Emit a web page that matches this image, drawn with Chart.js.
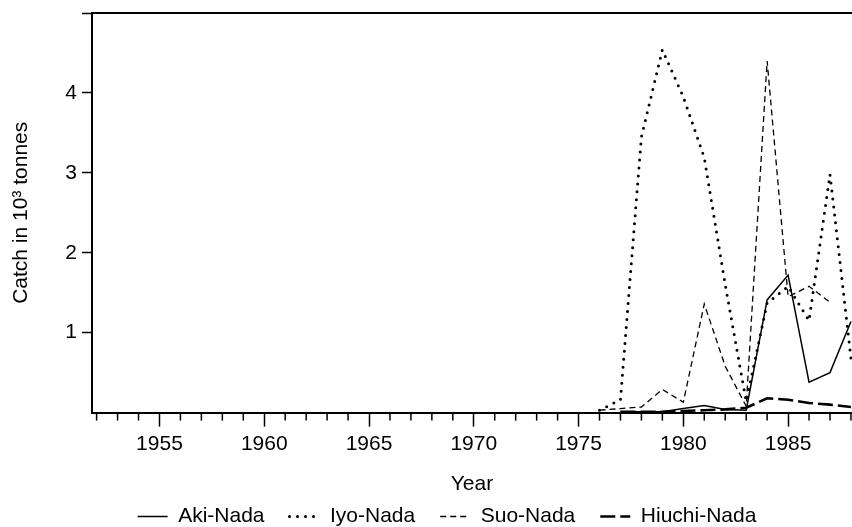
<!DOCTYPE html>
<html>
<head>
<meta charset="utf-8">
<script src="https://cdn.jsdelivr.net/npm/chart.js@4/dist/chart.umd.min.js"></script>
<style>
  html, body { margin: 0; padding: 0; background: #fff; overflow: hidden; }
  canvas { display: block; }
</style>
</head>
<body>
<canvas id="catchChart" width="852" height="527"></canvas>
<script>
// catch per year, 10^3 tonnes (null = no data)
const years = [1976, 1977, 1978, 1979, 1980, 1981, 1982, 1983, 1984, 1985, 1986, 1987, 1988];
const akiNada = [null, 0.01, 0.01, 0.01, 0.05, 0.09, 0.04, 0.03, 1.41, 1.72, 0.38, 0.50, 1.14];
const iyoNada = [0.03, 0.16, 3.45, 4.54, 3.95, 3.19, 1.60, 0.14, 1.37, 1.58, 1.15, 2.98, 0.68];
const suoNada = [0.03, 0.05, 0.07, 0.29, 0.13, 1.36, 0.58, 0.08, 4.40, 1.45, 1.58, 1.38, null];
const hiuchiNada = [null, 0.01, 0.01, 0.01, 0.02, 0.03, 0.04, 0.06, 0.18, 0.16, 0.12, 0.10, 0.07];

const yTickLabels = [1, 2, 3, 4];

const FONT = 'Liberation Sans';
Chart.defaults.color = '#000';
Chart.defaults.font.family = FONT;
Chart.defaults.font.size = 21;

const toPoints = vals => years.map((yr, i) => ({ x: yr, y: vals[i] }));

// setup
const data = {
    datasets: [
        {
            label: 'Aki-Nada',
            data: toPoints(akiNada),
            borderColor: '#000',
            borderWidth: 1.5,
            borderDash: []
        },
        {
            label: 'Iyo-Nada',
            data: toPoints(iyoNada),
            borderColor: '#000',
            borderWidth: 3,
            borderDash: [0, 8],
            borderCapStyle: 'round'
        },
        {
            label: 'Suo-Nada',
            data: toPoints(suoNada),
            borderColor: '#000',
            borderWidth: 1.3,
            borderDash: [6, 4]
        },
        {
            label: 'Hiuchi-Nada',
            data: toPoints(hiuchiNada),
            borderColor: '#000',
            borderWidth: 2.6,
            borderDash: [15, 5]
        }
    ]
};

// short ticks every year + top frame line
const frameAndMinorTicks = {
    id: 'frameAndMinorTicks',
    afterDraw(chart) {
        const { ctx, chartArea, scales: { x } } = chart;
        ctx.save();
        ctx.strokeStyle = '#000';
        ctx.lineWidth = 1.5;
        x.ticks.forEach(t => {
            if (t.value % 5 === 0) return;
            const px = x.getPixelForValue(t.value);
            ctx.beginPath();
            ctx.moveTo(px, chartArea.bottom);
            ctx.lineTo(px, chartArea.bottom + 8);
            ctx.stroke();
        });
        ctx.lineWidth = 2;
        ctx.beginPath();
        ctx.moveTo(chartArea.left, chartArea.top);
        ctx.lineTo(chartArea.right, chartArea.top);
        ctx.stroke();
        ctx.restore();
    }
};

// legend sits a bit right of centre and close under "Year"
const legendNudge = {
    id: 'legendNudge',
    afterLayout(chart) {
        const lg = chart.legend;
        lg.left += 21;
        lg.right += 21;
        lg.top -= 16;
        lg.bottom -= 16;
    }
};

// config
const config = {
    type: 'line',
    data: data,
    options: {
        responsive: false,
        animation: false,
        layout: { padding: { top: 13, left: 0, right: 0, bottom: -26 } },
        elements: {
            line: { tension: 0, fill: false },
            point: { radius: 0, hoverRadius: 0 }
        },
        scales: {
            x: {
                type: 'linear',
                min: 1951.78,
                max: 1988.05,
                afterFit(scale) { scale.paddingLeft = 0; scale.paddingRight = 0; },
                border: { display: true, color: '#000', width: 2 },
                grid: {
                    drawOnChartArea: false,
                    tickLength: 14,
                    tickWidth: 1.5,
                    tickColor: ctx => (ctx.tick && ctx.tick.value % 5 === 0) ? '#000' : 'rgba(0,0,0,0)'
                },
                ticks: {
                    stepSize: 1,
                    autoSkip: false,
                    includeBounds: false,
                    maxRotation: 0,
                    padding: 5,
                    callback: v => (v % 5 === 0 ? String(v) : '')
                },
                title: {
                    display: true,
                    text: 'Year',
                    padding: { top: 10, bottom: 0 }
                }
            },
            y: {
                min: 0,
                max: 5,
                afterFit(scale) { scale.width = 92; scale.paddingTop = 0; scale.paddingBottom = 0; },
                border: { display: true, color: '#000', width: 2 },
                grid: {
                    drawOnChartArea: false,
                    tickLength: 10,
                    tickWidth: 1.5,
                    tickColor: ctx => (ctx.tick && ctx.tick.value === 0) ? 'rgba(0,0,0,0)' : '#000'
                },
                ticks: {
                    stepSize: 1,
                    padding: 5,
                    callback: v => (yTickLabels.includes(v) ? String(v) : '')
                },
                title: {
                    display: true,
                    text: 'Catch in 10³ tonnes',
                    padding: { top: 9, bottom: 0 }
                }
            }
        },
        plugins: {
            tooltip: { enabled: false },
            legend: {
                position: 'bottom',
                labels: {
                    usePointStyle: true,
                    pointStyle: 'line',
                    pointStyleWidth: 30,
                    padding: 25,
                    color: '#000',
                    font: { family: FONT, size: 21 },
                    generateLabels: chart => chart.data.datasets.map((ds, i) => ({
                        text: ds.label,
                        fontColor: '#000',
                        strokeStyle: ds.borderColor,
                        fillStyle: 'rgba(0,0,0,0)',
                        lineWidth: ds.borderWidth,
                        lineDash: ds.borderDash,
                        lineCap: ds.borderCapStyle || 'butt',
                        pointStyle: 'line',
                        hidden: false,
                        datasetIndex: i
                    }))
                }
            }
        }
    },
    plugins: [frameAndMinorTicks, legendNudge]
};

// render init block
const myChart = new Chart(
    document.getElementById('catchChart'),
    config
);
</script>
</body>
</html>
